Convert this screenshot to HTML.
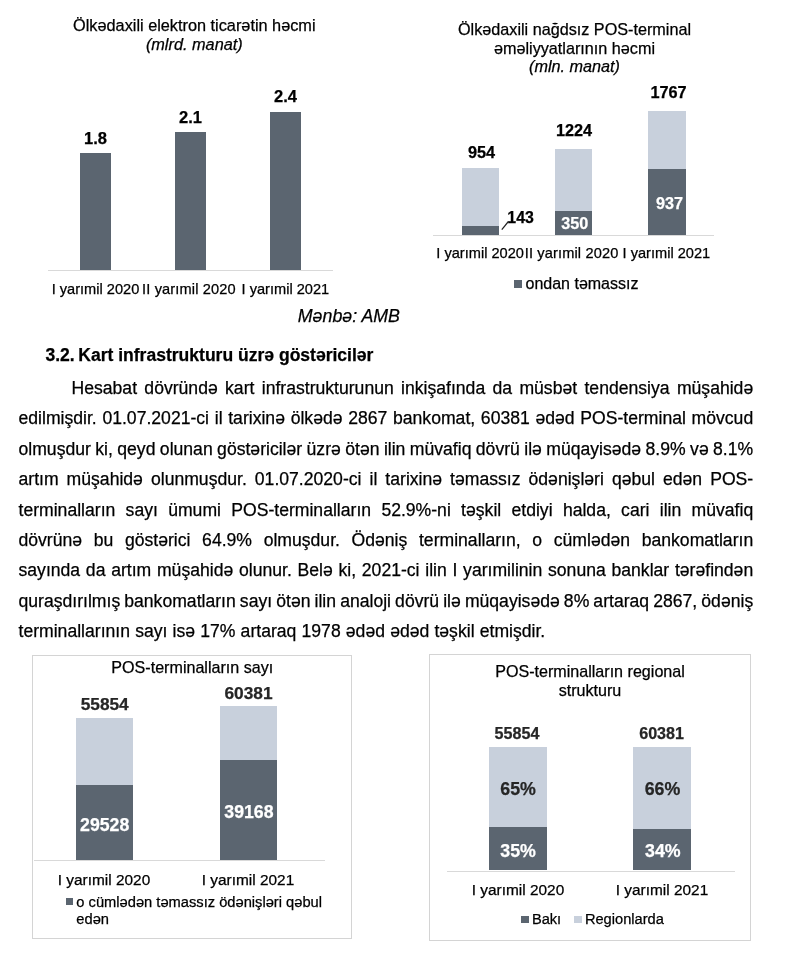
<!DOCTYPE html>
<html lang="az">
<head>
<meta charset="utf-8">
<title>Kart infrastrukturu üzrə göstəricilər</title>
<style>
html,body{margin:0;padding:0;background:#fff;}
body{width:800px;height:975px;position:relative;overflow:hidden;font-family:"Liberation Sans",sans-serif;color:#000;}
.abs{position:absolute;white-space:nowrap;line-height:20px;-webkit-text-stroke:0.25px currentColor;}
.c{transform:translateX(-50%);text-align:center;}
.bar{position:absolute;}
.dk{background:#5b6570;}
.lt{background:#c8d0dc;}
.ax{position:absolute;height:1px;background:#d9d9d9;}
.sp{display:inline-block;width:3px;}
.box{position:absolute;border:1px solid #d4d4d4;box-sizing:border-box;}
.para{position:absolute;left:18.5px;width:736.5px;font-size:17.6px;line-height:30.43px;color:#000;}
.ln{text-align:justify;text-align-last:justify;color:#000;}
.ln.last{text-align-last:left;}
</style>
</head>
<body>
<!-- Chart 1 -->
<div class="abs c" style="left:194.3px;top:16px;font-size:16.3px;line-height:18px;color:#000;">Ölkədaxili elektron ticarətin həcmi</div>
<div class="abs c" style="left:194.3px;top:35px;font-size:16.3px;line-height:18px;color:#000;font-style:italic;">(mlrd. manat)</div>
<div class="bar dk" style="left:80px;top:153.3px;width:31px;height:116.7px;"></div>
<div class="bar dk" style="left:175px;top:132px;width:31px;height:138px;"></div>
<div class="bar dk" style="left:270px;top:112px;width:31.2px;height:158px;"></div>
<div class="ax" style="left:48px;top:270px;width:285px;"></div>
<div class="abs c" style="left:95.5px;top:129px;font-size:16.5px;line-height:18px;color:#000;font-weight:bold;">1.8</div>
<div class="abs c" style="left:190.5px;top:108px;font-size:16.5px;line-height:18px;color:#000;font-weight:bold;">2.1</div>
<div class="abs c" style="left:285.5px;top:87px;font-size:16.5px;line-height:18px;color:#000;font-weight:bold;">2.4</div>
<div class="abs" style="left:51.7px;top:281px;font-size:14.6px;line-height:16px;color:#000;">I yarımil 2020</div>
<div class="abs" style="left:142.1px;top:281px;font-size:14.6px;line-height:16px;color:#000;letter-spacing:0.14px;">II yarımil 2020</div>
<div class="abs" style="left:241.6px;top:281px;font-size:14.6px;line-height:16px;color:#000;">I yarımil 2021</div>
<div class="abs" style="left:297.8px;top:306px;font-size:17.8px;line-height:20px;color:#000;font-style:italic;">Mənbə: AMB</div>
<!-- Chart 2 -->
<div class="abs c" style="left:574.5px;top:20px;font-size:16.2px;line-height:18px;color:#000;">Ölkədaxili nağdsız POS-terminal</div>
<div class="abs c" style="left:574.5px;top:39px;font-size:16.2px;line-height:18px;color:#000;">əməliyyatlarının həcmi</div>
<div class="abs c" style="left:574.5px;top:57px;font-size:16.2px;line-height:18px;color:#000;font-style:italic;">(mln. manat)</div>
<div class="bar lt" style="left:462px;top:168px;width:37px;height:58px;"></div>
<div class="bar dk" style="left:462px;top:225.6px;width:37px;height:9.4px;"></div>
<div class="bar lt" style="left:555px;top:149px;width:37.2px;height:62px;"></div>
<div class="bar dk" style="left:555px;top:211px;width:37.2px;height:24px;"></div>
<div class="bar lt" style="left:648.4px;top:110.6px;width:37.2px;height:59px;"></div>
<div class="bar dk" style="left:648.4px;top:169.4px;width:37.2px;height:65.6px;"></div>
<div class="ax" style="left:433px;top:234.5px;width:281px;"></div>
<div class="abs c" style="left:481.5px;top:143px;font-size:16.3px;line-height:18px;color:#000;font-weight:bold;">954</div>
<div class="abs c" style="left:574px;top:121px;font-size:16.3px;line-height:18px;color:#000;font-weight:bold;">1224</div>
<div class="abs c" style="left:668.5px;top:83px;font-size:16.3px;line-height:18px;color:#000;font-weight:bold;">1767</div>
<div class="abs" style="left:507.3px;top:209px;font-size:15.9px;line-height:17px;color:#000;font-weight:bold;">143</div>
<svg class="abs" style="left:500px;top:220px;" width="12" height="16"><line x1="1.8" y1="9.7" x2="8.4" y2="1.5" stroke="#222" stroke-width="1.2"/></svg>
<div class="abs c" style="left:574.8px;top:214px;font-size:16.2px;line-height:18px;color:#fff;font-weight:bold;">350</div>
<div class="abs c" style="left:669.5px;top:194px;font-size:16.2px;line-height:18px;color:#fff;font-weight:bold;">937</div>
<div class="abs" style="left:436.3px;top:245px;font-size:14.6px;line-height:16px;color:#000;">I yarımil 2020</div>
<div class="abs" style="left:524.7px;top:245px;font-size:14.6px;line-height:16px;color:#000;letter-spacing:0.14px;">II yarımil 2020</div>
<div class="abs" style="left:622.6px;top:245px;font-size:14.6px;line-height:16px;color:#000;">I yarımil 2021</div>
<div class="bar dk" style="left:513.6px;top:280px;width:8px;height:8px;"></div>
<div class="abs" style="left:525.5px;top:275px;font-size:16px;line-height:17px;color:#000;">ondan təmassız</div>
<!-- Text -->
<div class="abs" style="left:45.5px;top:345px;font-size:17.55px;line-height:20px;color:#000;font-weight:bold;">3.2.<span style="display:inline-block;width:3.5px;"></span>Kart infrastrukturu üzrə göstəricilər</div>
<div class="abs ln" style="left:71.5px;top:378px;width:681.7px;font-size:17.6px;line-height:20px;">Hesabat dövründə kart infrastrukturunun inkişafında da müsbət tendensiya müşahidə</div>
<div class="abs ln" style="left:18.5px;top:408px;width:734.7px;font-size:17.6px;line-height:20px;">edilmişdir. 01.07.2021-ci il tarixinə ölkədə 2867 bankomat, 60381 ədəd POS-terminal mövcud</div>
<div class="abs ln" style="left:18.5px;top:439px;width:734.7px;font-size:17.6px;line-height:20px;word-spacing:-0.9px;">olmuşdur ki, qeyd olunan göstəricilər üzrə ötən ilin müvafiq dövrü ilə müqayisədə 8.9% və 8.1%</div>
<div class="abs ln" style="left:18.5px;top:469px;width:734.7px;font-size:17.6px;line-height:20px;">artım müşahidə olunmuşdur. 01.07.2020-ci il tarixinə təmassız ödənişləri qəbul edən POS-</div>
<div class="abs ln" style="left:18.5px;top:500px;width:734.7px;font-size:17.6px;line-height:20px;">terminalların sayı ümumi POS-terminalların 52.9%-ni təşkil etdiyi halda, cari ilin müvafiq</div>
<div class="abs ln" style="left:18.5px;top:530px;width:734.7px;font-size:17.6px;line-height:20px;">dövrünə bu göstərici 64.9% olmuşdur. Ödəniş terminalların, o cümlədən bankomatların</div>
<div class="abs ln" style="left:18.5px;top:560px;width:734.7px;font-size:17.6px;line-height:20px;">sayında da artım müşahidə olunur. Belə ki, 2021-ci ilin I yarımilinin sonuna banklar tərəfindən</div>
<div class="abs ln" style="left:18.5px;top:591px;width:734.7px;font-size:17.6px;line-height:20px;word-spacing:-0.9px;">quraşdırılmış bankomatların sayı ötən ilin analoji dövrü ilə müqayisədə 8% artaraq 2867, ödəniş</div>
<div class="abs ln last" style="left:18.5px;top:621px;width:734.7px;font-size:17.6px;line-height:20px;word-spacing:0.28px;">terminallarının sayı isə 17% artaraq 1978 ədəd ədəd təşkil etmişdir.</div>
<!-- Chart 3 -->
<div class="box" style="left:32px;top:655px;width:320px;height:284px;"></div>
<div class="abs c" style="left:192.3px;top:658px;font-size:16.1px;line-height:18px;color:#000;">POS-terminalların sayı</div>
<div class="bar lt" style="left:75.6px;top:718.1px;width:57.8px;height:68px;"></div>
<div class="bar dk" style="left:75.6px;top:785.3px;width:57.8px;height:75px;"></div>
<div class="bar lt" style="left:220.3px;top:706px;width:57px;height:55px;"></div>
<div class="bar dk" style="left:220.3px;top:760.3px;width:57px;height:100px;"></div>
<div class="ax" style="left:34px;top:860.2px;width:291px;"></div>
<div class="abs c" style="left:104.7px;top:694px;font-size:17.3px;line-height:20px;color:#262626;font-weight:bold;">55854</div>
<div class="abs c" style="left:248.5px;top:683px;font-size:17.3px;line-height:20px;color:#262626;font-weight:bold;">60381</div>
<div class="abs c" style="left:104.7px;top:815px;font-size:17.7px;line-height:20px;color:#fff;font-weight:bold;">29528</div>
<div class="abs c" style="left:248.9px;top:802px;font-size:17.7px;line-height:20px;color:#fff;font-weight:bold;">39168</div>
<div class="abs c" style="left:104px;top:871px;font-size:15.4px;line-height:17px;color:#000;">I yarımil 2020</div>
<div class="abs c" style="left:248px;top:871px;font-size:15.4px;line-height:17px;color:#000;">I yarımil 2021</div>
<div class="bar dk" style="left:66px;top:898.4px;width:7.4px;height:7px;"></div>
<div class="abs" style="left:76.3px;top:894px;font-size:14.69px;line-height:16px;color:#000;">o cümlədən təmassız ödənişləri qəbul</div>
<div class="abs" style="left:76.3px;top:911px;font-size:14.69px;line-height:16px;color:#000;">edən</div>
<!-- Chart 4 -->
<div class="box" style="left:429px;top:654px;width:322px;height:287px;"></div>
<div class="abs c" style="left:590px;top:662px;font-size:16.1px;line-height:18px;color:#000;">POS-terminalların regional</div>
<div class="abs c" style="left:590px;top:681px;font-size:16.1px;line-height:18px;color:#000;">strukturu</div>
<div class="bar lt" style="left:489.4px;top:746.9px;width:57.2px;height:81px;"></div>
<div class="bar dk" style="left:489.4px;top:827.2px;width:57.2px;height:43.2px;"></div>
<div class="bar lt" style="left:633.4px;top:746.9px;width:57.5px;height:82.5px;"></div>
<div class="bar dk" style="left:633.4px;top:828.75px;width:57.5px;height:41.6px;"></div>
<div class="ax" style="left:446.5px;top:871px;width:288px;"></div>
<div class="abs c" style="left:517px;top:724px;font-size:16.1px;line-height:18px;color:#262626;font-weight:bold;">55854</div>
<div class="abs c" style="left:661.6px;top:724px;font-size:16.1px;line-height:18px;color:#262626;font-weight:bold;">60381</div>
<div class="abs c" style="left:518.1px;top:779px;font-size:17.8px;line-height:20px;color:#262626;font-weight:bold;">65%</div>
<div class="abs c" style="left:662.5px;top:779px;font-size:17.8px;line-height:20px;color:#262626;font-weight:bold;">66%</div>
<div class="abs c" style="left:518.1px;top:841px;font-size:17.8px;line-height:20px;color:#fff;font-weight:bold;">35%</div>
<div class="abs c" style="left:662.8px;top:841px;font-size:17.8px;line-height:20px;color:#fff;font-weight:bold;">34%</div>
<div class="abs c" style="left:518px;top:881px;font-size:15.4px;line-height:17px;color:#000;">I yarımil 2020</div>
<div class="abs c" style="left:662px;top:881px;font-size:15.4px;line-height:17px;color:#000;">I yarımil 2021</div>
<div class="bar dk" style="left:521px;top:916px;width:7.6px;height:7.4px;"></div>
<div class="abs" style="left:531.9px;top:911px;font-size:14.65px;line-height:16px;color:#000;">Bakı</div>
<div class="bar lt" style="left:574.4px;top:916px;width:7.6px;height:7.4px;"></div>
<div class="abs" style="left:584.9px;top:911px;font-size:14.65px;line-height:16px;color:#000;">Regionlarda</div>
</body>
</html>
